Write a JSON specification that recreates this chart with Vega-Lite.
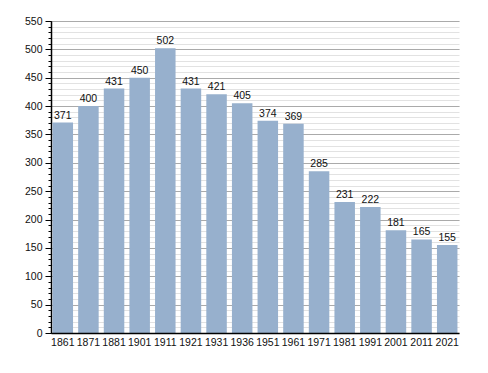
{
  "$schema": "https://vega.github.io/schema/vega-lite/v6.json",
  "autosize": "none",
  "width": 408,
  "height": 312,
  "padding": {"left": 51, "top": 21, "right": 29, "bottom": 40},
  "background": "white",
  "config": {
    "view": {"stroke": null},
    "font": "Liberation Sans",
    "axis": {"labelFont": "Liberation Sans", "labelFontSize": 10.5, "labelColor": "#111"}
  },
  "data": {"values": [
    {"year": "1861", "pop": 371},
    {"year": "1871", "pop": 400},
    {"year": "1881", "pop": 431},
    {"year": "1901", "pop": 450},
    {"year": "1911", "pop": 502},
    {"year": "1921", "pop": 431},
    {"year": "1931", "pop": 421},
    {"year": "1936", "pop": 405},
    {"year": "1951", "pop": 374},
    {"year": "1961", "pop": 369},
    {"year": "1971", "pop": 285},
    {"year": "1981", "pop": 231},
    {"year": "1991", "pop": 222},
    {"year": "2001", "pop": 181},
    {"year": "2011", "pop": 165},
    {"year": "2021", "pop": 155}
  ]},
  "encoding": {
    "x": {"field": "year", "type": "ordinal", "sort": null,
      "scale": {"paddingInner": 0.2, "paddingOuter": 0.06},
      "axis": {"title": null, "labelAngle": 0, "ticks": false, "domainColor": "#000", "domainWidth": 1.5, "labelPadding": 4, "zindex": 2}}
  },
  "layer": [
    {
      "mark": {"type": "text", "opacity": 0},
      "encoding": {
        "y": {"field": "pop", "type": "quantitative",
          "scale": {"domain": [0, 550], "nice": false},
          "axis": {"title": null, "orient": "left", "values": [0,10,20,30,40,50,60,70,80,90,100,110,120,130,140,150,160,170,180,190,200,210,220,230,240,250,260,270,280,290,300,310,320,330,340,350,360,370,380,390,400,410,420,430,440,450,460,470,480,490,500,510,520,530,540,550],
            "labels": false, "domain": false, "grid": true, "gridColor": "#e2e2e2", "gridWidth": 1, "tickColor": "#000", "tickSize": 3, "zindex": 0}},
        "text": {"field": "pop"}
      }
    },
    {
      "mark": {"type": "bar", "color": "#97b0cd"},
      "encoding": {
        "y": {"field": "pop", "type": "quantitative",
          "scale": {"domain": [0, 550], "nice": false},
          "axis": {"title": null, "orient": "left", "values": [0,50,100,150,200,250,300,350,400,450,500,550],
            "grid": true, "gridColor": "#aaaaaa", "domainColor": "#000", "domainWidth": 1.5, "tickColor": "#000", "tickSize": 6, "labelPadding": 3, "zindex": 0}}
      }
    },
    {
      "mark": {"type": "text", "dy": -7, "fontSize": 10.5, "color": "#111", "font": "Liberation Sans"},
      "encoding": {
        "y": {"field": "pop", "type": "quantitative", "axis": null},
        "text": {"field": "pop"}
      }
    }
  ],
  "resolve": {"axis": {"y": "independent"}}
}
